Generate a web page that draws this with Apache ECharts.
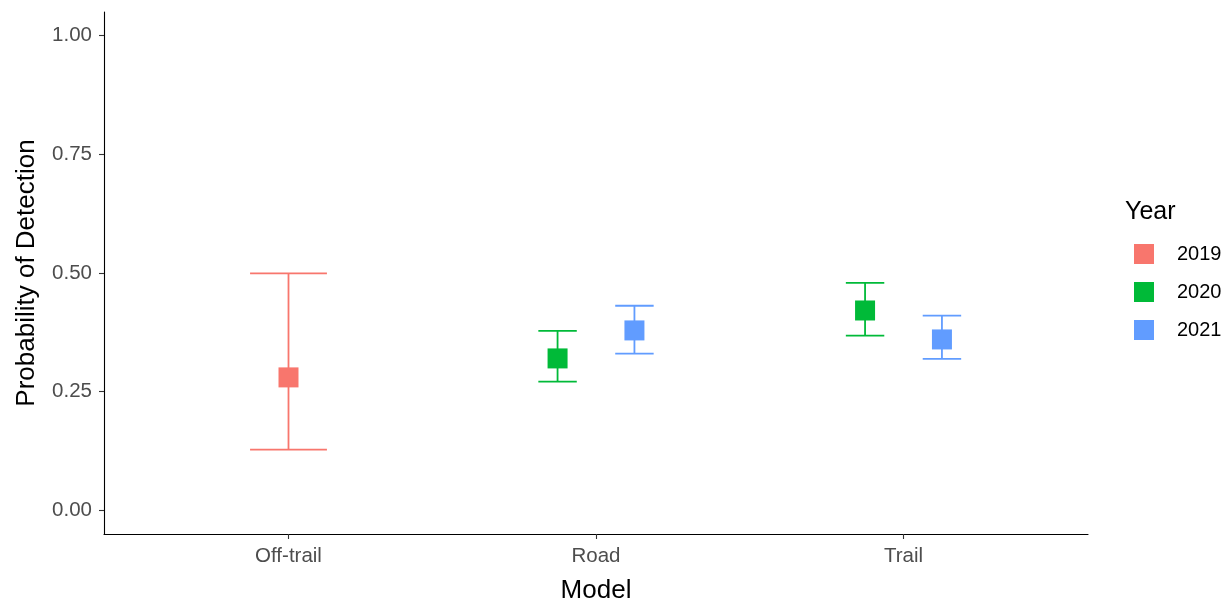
<!DOCTYPE html>
<html><head><meta charset="utf-8">
<script src="https://cdn.jsdelivr.net/npm/echarts@6/dist/echarts.min.js"></script>
<style>html,body{margin:0;padding:0;background:#fff}#c{width:1232px;height:598px}</style>
</head><body><div id="c"></div>
<script>
const categories = ['Off-trail', 'Road', 'Trail'];
const years = ['2019', '2020', '2021'];
const colors = ['#F8766D', '#00BA38', '#619CFF'];
const est2019 = [0.280, null, null];
const lo2019  = [0.128, null, null];
const hi2019  = [0.499, null, null];
const est2020 = [null, 0.320, 0.421];
const lo2020  = [null, 0.271, 0.368];
const hi2020  = [null, 0.378, 0.479];
const est2021 = [null, 0.379, 0.360];
const lo2021  = [null, 0.330, 0.319];
const hi2021  = [null, 0.431, 0.410];
const yTicks = [0, 0.25, 0.5, 0.75, 1];

const est = [est2019, est2020, est2021];
const lo = [lo2019, lo2020, lo2021];
const hi = [hi2019, hi2020, hi2021];
const dodgeWidth = 0.5;
const capWidth = 0.25;
const FONT = 'Liberation Sans, Arial, sans-serif';

function rows(g) {
  const out = [];
  categories.forEach((c, ci) => {
    if (est[g][ci] == null) return;
    const present = years.map((_, k) => k).filter(k => est[k][ci] != null);
    const n = present.length;
    const idx = present.indexOf(g);
    const x = ci + 1 + (idx - (n - 1) / 2) * (dodgeWidth / n);
    out.push([x, est[g][ci], lo[g][ci], hi[g][ci], capWidth / n]);
  });
  return out;
}

const series = [];
years.forEach((y, g) => {
  series.push({
    name: y, type: 'scatter', data: rows(g).map(r => [r[0], r[1]]),
    symbol: 'rect', symbolSize: 20, itemStyle: { color: colors[g], opacity: 1 }, z: 3,
    emphasis: { disabled: true }
  });
  series.push({
    name: y, type: 'custom', data: rows(g), z: 2,
    encode: { x: 0, y: [1, 2, 3] },
    renderItem: (params, api) => {
      const x = api.value(0), w = api.value(4);
      const top = api.coord([x, api.value(3)]);
      const bot = api.coord([x, api.value(2)]);
      const l = api.coord([x - w / 2, 0])[0], r = api.coord([x + w / 2, 0])[0];
      const style = { stroke: colors[g], lineWidth: 1.8, fill: null };
      return { type: 'group', children: [
        { type: 'line', shape: { x1: top[0], y1: top[1], x2: bot[0], y2: bot[1] }, style },
        { type: 'line', shape: { x1: l, y1: top[1], x2: r, y2: top[1] }, style },
        { type: 'line', shape: { x1: l, y1: bot[1], x2: r, y2: bot[1] }, style }
      ] };
    }
  });
});

const chart = echarts.init(document.getElementById('c'), null, { renderer: 'canvas' });
chart.setOption({
  animation: false,
  backgroundColor: '#fff',
  textStyle: { fontFamily: FONT },
  grid: { left: 104, right: 144, top: 12, bottom: 64, containLabel: false, outerBoundsMode: 'none' },
  title: { text: 'Year', left: 1120, top: 195, textStyle: { fontFamily: FONT, fontSize: 25, fontWeight: 'normal', color: '#000' } },
  legend: {
    data: years, orient: 'vertical', left: 1129, top: 239, icon: 'rect',
    itemWidth: 20, itemHeight: 20, itemGap: 18, selectedMode: false,
    textStyle: { fontFamily: FONT, fontSize: 20, color: '#000', padding: [0, 0, 0, 18] }
  },
  xAxis: {
    type: 'value', min: 0.4, max: 3.6,
    name: 'Model', nameLocation: 'middle', nameGap: 44,
    nameTextStyle: { fontFamily: FONT, fontSize: 26, color: '#000' },
    axisLine: { show: true, onZero: false, lineStyle: { color: '#000', width: 1.1 } },
    axisTick: { show: true, length: 5, customValues: [1, 2, 3], lineStyle: { color: '#333', width: 1.1 } },
    axisLabel: { customValues: [1, 2, 3], margin: 12, fontFamily: FONT, fontSize: 20.5, color: '#4D4D4D',
      formatter: v => categories[Math.round(v) - 1] },
    splitLine: { show: false }
  },
  yAxis: {
    type: 'value', min: -0.05, max: 1.05,
    name: 'Probability of Detection', nameLocation: 'middle', nameGap: 64,
    nameTextStyle: { fontFamily: FONT, fontSize: 26, color: '#000' },
    axisLine: { show: true, onZero: false, lineStyle: { color: '#000', width: 1.1 } },
    axisTick: { show: true, length: 5, customValues: yTicks, lineStyle: { color: '#333', width: 1.1 } },
    axisLabel: { customValues: yTicks, margin: 12, fontFamily: FONT, fontSize: 20.5, color: '#4D4D4D',
      formatter: v => v.toFixed(2) },
    splitLine: { show: false }
  },
  series
});
</script></body></html>
